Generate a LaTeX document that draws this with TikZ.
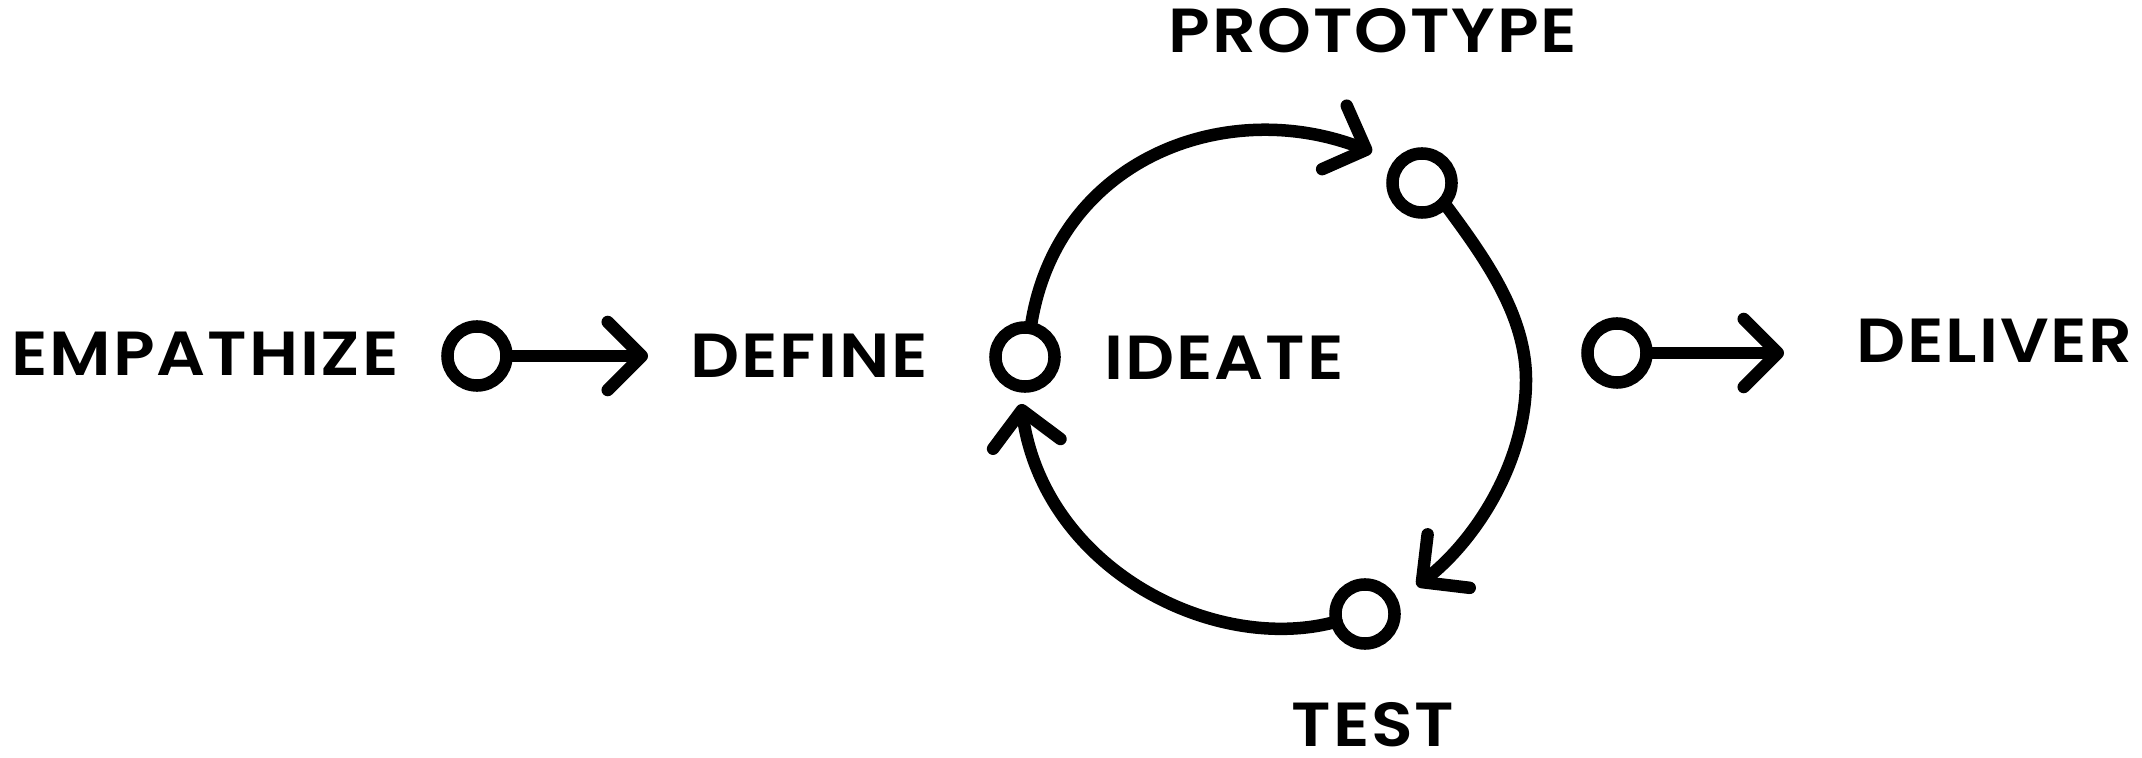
\documentclass[tikz,border=0pt]{standalone}
\usepackage{fontspec}
\newfontfamily\lblfont{Poppins}[UprightFont=* SemiBold, BoldFont=* SemiBold, FakeStretch=1.1, LetterSpace=3]
\usetikzlibrary{arrows.meta}
\begin{document}
\begin{tikzpicture}[x=0.01cm,y=-0.01cm,
  ring/.style={circle, draw, line width=0.125cm, minimum size=0.59cm, inner sep=0pt, outer sep=0pt},
  lbl/.style={inner sep=0pt, font=\lblfont\fontsize{17.7}{20}\selectfont, text depth=0pt},
  conn/.style={line width=0.125cm, line cap=round, -{Straight Barb[length=0.34cm,width=0.68cm,round]}}
]
\useasboundingbox (0,0) rectangle (2142,758);
\clip (0,0) rectangle (2142,758);
\fill[white] (0,0) rectangle (2142,758);

\node[lbl, anchor=west] (emp) at (11,354) {EMPATHIZE};
\node[ring] (c1) at (477,356) {};
\coordinate (t1) at (648,356);
\draw[conn] (c1) -- (t1);
\node[lbl, anchor=west] (def) at (690,356) {DEFINE};
\node[ring] (c2) at (1025,357) {};
\node[lbl, anchor=west] (ide) at (1104,358) {IDEATE};
\node[ring] (c3) at (1422,183) {};
\node[lbl] (pro) at (1373,30) {PROTOTYPE};
\node[ring] (c5) at (1365,614) {};
\node[lbl] (tst) at (1373,724) {TEST};
\node[ring] (c4) at (1617,353) {};
\coordinate (t4) at (1784,353);
\draw[conn] (c4) -- (t4);
\node[lbl, anchor=west] (del) at (1856,341) {DELIVER};

\coordinate (tp) at (1372,152);
\coordinate (tr) at (1417,586);
\coordinate (tb) at (1021,404);
\draw[conn] (c2.79) .. controls (1055,160) and (1225,95) .. (tp);
\draw[conn] (c3.-42) .. controls (1485,258) and (1526,315) .. (1526,380) .. controls (1526,460) and (1478,538) .. (tr);
\draw[conn] (c5.195) .. controls (1215,655) and (1045,570) .. (tb);
\end{tikzpicture}
\end{document}
